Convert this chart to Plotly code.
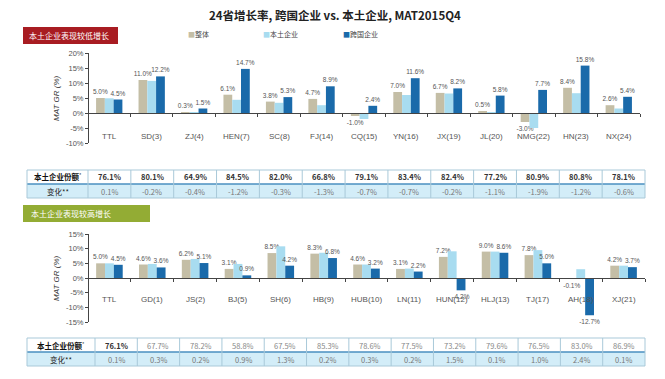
import plotly.graph_objects as go

W, H = 665, 379
OFF = 8  # page body margin offset in the screenshot

# ---------------- data ----------------
series_names = ["整体", "本土企业", "跨国企业"]
colors = ["#C4BEA6", "#A8DCF0", "#1A6AAA"]

top_cats = ["TTL", "SD(3)", "ZJ(4)", "HEN(7)", "SC(8)", "FJ(14)", "CQ(15)", "YN(16)",
            "JX(19)", "JL(20)", "NMG(22)", "HN(23)", "NX(24)"]
top_total = [5.0, 11.0, 0.3, 6.1, 3.8, 4.7, -1.0, 7.0, 6.7, 0.5, -3.0, 8.4, 2.6]
top_local = [4.9, 10.7, 0.1, 4.4, 3.4, 2.6, -2.0, 6.0, 6.5, 0.2, -5.0, 6.6, 1.5]
top_mnc = [4.5, 12.2, 1.5, 14.7, 5.3, 8.9, 2.4, 11.6, 8.2, 5.8, 7.7, 15.8, 5.4]
top_share = ["76.1%", "80.1%", "64.9%", "84.5%", "82.0%", "66.8%", "79.1%", "83.4%",
             "82.4%", "77.2%", "80.9%", "80.8%", "78.1%"]
top_change = ["0.1%", "-0.2%", "-0.4%", "-1.2%", "-0.3%", "-1.3%", "-0.7%", "-0.7%",
              "-0.2%", "-1.1%", "-1.9%", "-1.2%", "-0.6%"]

bot_cats = ["TTL", "GD(1)", "JS(2)", "BJ(5)", "SH(6)", "HB(9)", "HUB(10)", "LN(11)",
            "HUN(12)", "HLJ(13)", "TJ(17)", "AH(18)", "XJ(21)"]
bot_total = [5.0, 4.6, 6.2, 3.1, 8.5, 8.3, 4.6, 3.1, 7.2, 9.0, 7.8, -0.1, 4.2]
bot_local = [5.0, 4.8, 6.5, 4.8, 10.8, 8.6, 4.6, 3.2, 9.1, 9.0, 9.5, 3.0, 4.2]
bot_mnc = [4.5, 3.6, 5.1, 0.9, 4.2, 6.8, 3.2, 2.2, -4.2, 8.6, 5.0, -12.7, 3.7]
bot_share = ["76.1%", "67.7%", "78.2%", "58.8%", "67.5%", "85.3%", "78.6%", "77.5%",
             "73.2%", "79.6%", "76.5%", "83.0%", "86.9%"]
bot_change = ["0.1%", "0.3%", "0.2%", "0.9%", "1.3%", "0.2%", "0.3%", "0.2%",
              "1.5%", "0.1%", "1.0%", "2.4%", "0.1%"]

top_yticks = [-10, -5, 0, 5, 10, 15, 20]
bot_yticks = [-15, -10, -5, 0, 5, 10, 15]

title = "<b>24省增长率, 跨国企业 vs. 本土企业, MAT2015Q4</b>"
banner_top = "本土企业表现较低增长"
banner_bot = "本土企业表现较高增长"
row_labels = ["<b>本土企业份额</b><sup>*</sup>", "变化**"]

# ---------------- helpers ----------------
def px_x(p):
    return (p - OFF) / W

def px_y(p):
    return 1 - (p - OFF) / H

CJK = "Noto Sans CJK SC"
LAT = "Liberation Sans"
GREY = "#555555"

fig = go.Figure()

def add_bars(cats, vals_list, xa, ya):
    for i, (name, vals) in enumerate(zip(series_names, vals_list)):
        labelled = i != 1
        fig.add_trace(go.Bar(
            x=cats, y=vals, name=name, marker=dict(color=colors[i], line=dict(width=0)),
            text=[f"{v:.1f}%" for v in vals] if labelled else None,
            textposition="outside" if labelled else "none",
            constraintext="none",
            textfont=dict(size=6.5, color=GREY, family=LAT),
            cliponaxis=False, showlegend=False, xaxis=xa, yaxis=ya,
            hovertemplate="%{x}: %{y:.1f}%<extra>" + name + "</extra>",
        ))

add_bars(top_cats, [top_total, top_local, top_mnc], "x", "y")
add_bars(bot_cats, [bot_total, bot_local, bot_mnc], "x2", "y2")

t_dom_y = [px_y(143), px_y(53)]
t_rng = [top_yticks[0], top_yticks[-1]]
t_zero = t_dom_y[0] + (t_dom_y[1] - t_dom_y[0]) * (0 - t_rng[0]) / (t_rng[1] - t_rng[0])
b_dom_y = [px_y(322), px_y(234)]
b_rng = [bot_yticks[0], bot_yticks[-1]]
b_zero = b_dom_y[0] + (b_dom_y[1] - b_dom_y[0]) * (0 - b_rng[0]) / (b_rng[1] - b_rng[0])

t_dom_x = [px_x(88), px_x(640)]
b_dom_x = [px_x(88), px_x(645)]

xcommon = dict(type="category", showline=True, linecolor="#444", linewidth=1,
               ticks="outside", tickson="boundaries", ticklen=3, tickcolor="#444",
               showticklabels=False, showgrid=False, zeroline=False, anchor="free",
               fixedrange=True)
ycommon = dict(showline=True, linecolor="#444", linewidth=1, ticks="outside", ticklen=3,
               tickcolor="#444", showgrid=False, zeroline=False, tickmode="array",
               tickfont=dict(size=7.5, color=GREY, family=LAT), fixedrange=True)

fig.update_layout(
    width=W, height=H, margin=dict(l=0, r=0, t=0, b=0, autoexpand=False),
    paper_bgcolor="white", plot_bgcolor="rgba(0,0,0,0)",
    barmode="group", bargap=0.38, bargroupgap=0.0,
    xaxis=dict(domain=t_dom_x, position=t_zero, **xcommon),
    yaxis=dict(domain=t_dom_y, range=t_rng, tickvals=top_yticks,
               ticktext=[f"{v}%" for v in top_yticks], anchor="free",
               position=t_dom_x[0], **ycommon),
    xaxis2=dict(domain=b_dom_x, position=b_zero, **xcommon),
    yaxis2=dict(domain=b_dom_y, range=b_rng, tickvals=bot_yticks,
                ticktext=[f"{v}%" for v in bot_yticks], anchor="free",
                position=b_dom_x[0], **ycommon),
    showlegend=False,
)

ann = []
shapes = []

def pann(text, x, y, size, color, family=CJK, xanchor="center", **kw):
    ann.append(dict(text=text, x=px_x(x), y=px_y(y), xref="paper", yref="paper",
                    xanchor=xanchor, yanchor="middle", showarrow=False,
                    font=dict(size=size, color=color, family=family), **kw))

# title
pann(title, 335, 15, 11.5, "#222")
# legend
leg_x = [186, 261, 341]
for nm, c, lx in zip(series_names, colors, leg_x):
    pann(f"<span style='color:{c}'>■</span>{nm}", lx, 34, 7, "#444", xanchor="left")
# category labels inside plot
for c in top_cats:
    ann.append(dict(text=c, x=c, y=-7.8, xref="x", yref="y", showarrow=False,
                    xanchor="center", yanchor="middle",
                    font=dict(size=8, color=GREY, family=LAT)))
for c in bot_cats:
    ann.append(dict(text=c, x=c, y=-7.3, xref="x2", yref="y2", showarrow=False,
                    xanchor="center", yanchor="middle",
                    font=dict(size=8, color=GREY, family=LAT)))
# y titles
pann("<i>MAT GR (%)</i>", 56, 98, 8, "#333", family=LAT, textangle=-90)
pann("<i>MAT GR (%)</i>", 56, 278, 8, "#333", family=LAT, textangle=-90)
# banners
shapes.append(dict(type="rect", xref="paper", yref="paper", x0=px_x(23), x1=px_x(118),
                   y0=px_y(44), y1=px_y(27), fillcolor="#A81C22", line=dict(width=0)))
pann(banner_top, 27, 35.5, 8, "white", xanchor="left")
shapes.append(dict(type="rect", xref="paper", yref="paper", x0=px_x(23), x1=px_x(150),
                   y0=px_y(222), y1=px_y(205), fillcolor="#93AC34", line=dict(width=0)))
pann(banner_bot, 29, 213.5, 8, "white", xanchor="left")

# tables drawn with shapes + annotations
BORDER = "#A9C9D9"
def add_table(share, change, x0, x1, y_top, first_w, bold_all):
    n = len(share)
    rh = 14
    cw = (x1 - x0 - first_w) / n
    edges = [x0, x0 + first_w] + [x0 + first_w + cw * (i + 1) for i in range(n)]
    shapes.append(dict(type="rect", xref="paper", yref="paper", x0=px_x(x0), x1=px_x(x1),
                       y0=px_y(y_top + 2 * rh), y1=px_y(y_top + rh),
                       fillcolor="#D3EDF8", line=dict(width=0), layer="below"))
    for yy, col, wd in [(y_top, BORDER, 1), (y_top + 2 * rh, BORDER, 1),
                        (y_top + rh, "#4A8FC0", 1.5)]:
        shapes.append(dict(type="line", xref="paper", yref="paper", x0=px_x(x0), x1=px_x(x1),
                           y0=px_y(yy), y1=px_y(yy), line=dict(color=col, width=wd)))
    for ex in edges:
        shapes.append(dict(type="line", xref="paper", yref="paper", x0=px_x(ex), x1=px_x(ex),
                           y0=px_y(y_top), y1=px_y(y_top + 2 * rh),
                           line=dict(color=BORDER, width=1)))
    centers = [(edges[i] + edges[i + 1]) / 2 for i in range(len(edges) - 1)]
    row1 = [row_labels[0]] + [f"<b>{s}</b>" if (bold_all or i == 0) else s
                              for i, s in enumerate(share)]
    row1_col = ["#111"] + ["#333" if (bold_all or i == 0) else "#888" for i in range(n)]
    row2 = [row_labels[1]] + list(change)
    row2_col = ["#222"] + ["#777"] * n
    for cx, t, c in zip(centers, row1, row1_col):
        pann(t, cx, y_top + rh / 2, 7.5, c)
    for cx, t, c in zip(centers, row2, row2_col):
        pann(t, cx, y_top + 1.5 * rh, 7.5, c)

add_table(top_share, top_change, 27, 645, 170, 61, True)
add_table(bot_share, bot_change, 27, 645, 338, 68, False)

fig.update_layout(annotations=ann, shapes=shapes)
fig.write_html("out.html")
